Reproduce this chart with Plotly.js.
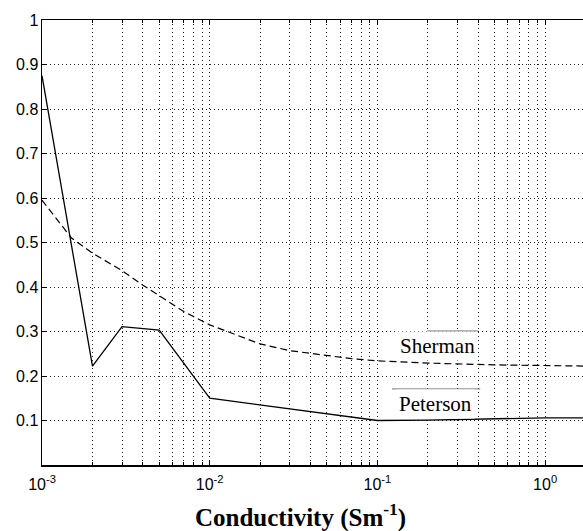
<!DOCTYPE html>
<html>
<head>
<meta charset="utf-8">
<script src="https://cdn.plot.ly/plotly-3.0.1.min.js"></script>
<style>
  html, body { margin: 0; padding: 0; background: #fff; overflow: hidden; }
  #chart { width: 583px; height: 531px; }
</style>
</head>
<body>
<div id="chart"></div>
<script>
// Conductivity values (S/m) and the two curves
const petersonX = [0.001, 0.002, 0.003, 0.005, 0.01, 0.1, 0.2, 0.5, 1, 2];
const petersonY = [0.875, 0.222, 0.311, 0.303, 0.150, 0.100, 0.101, 0.104, 0.106, 0.106];

const shermanX = [0.001, 0.0015, 0.002, 0.003, 0.004, 0.005, 0.007, 0.01, 0.0125, 0.015, 0.02, 0.03, 0.04, 0.05, 0.07, 0.1, 0.2, 0.5, 1, 2];
const shermanY = [0.595, 0.510, 0.476, 0.437, 0.404, 0.380, 0.345, 0.315, 0.301, 0.289, 0.272, 0.257, 0.251, 0.246, 0.239, 0.234, 0.229, 0.225, 0.223, 0.222];

// Axis ticks
const xMajor = [0.001, 0.01, 0.1, 1];
const xMajorText = ['10<sup>-3</sup>', '10<sup>-2</sup>', '10<sup>-1</sup>', '10<sup>0</sup>'];
const xMinor = [];
[0.001, 0.01, 0.1, 1].forEach(d => { for (let k = 2; k <= 9; k++) xMinor.push(+(k * d).toPrecision(3)); });
const yTicks = [0.1, 0.2, 0.3, 0.4, 0.5, 0.6, 0.7, 0.8, 0.9, 1];
const yTickText = ['0.1', '0.2', '0.3', '0.4', '0.5', '0.6', '0.7', '0.8', '0.9', '1'];

const xTitle = '<b>Conductivity (Sm<sup>-1</sup>)</b>';

const dotted = '1px,3px';
const tickFont = { family: 'Liberation Sans, Arial, sans-serif', size: 16, color: '#000' };
const serif = 'Liberation Serif, Times New Roman, serif';

const traces = [
  {
    x: petersonX, y: petersonY, type: 'scatter', mode: 'lines',
    name: 'Peterson', line: { color: '#000', width: 1.3 }, hoverinfo: 'x+y'
  },
  {
    x: shermanX, y: shermanY, type: 'scatter', mode: 'lines',
    name: 'Sherman', line: { color: '#000', width: 1.2, dash: '7px,4px' },
    hoverinfo: 'x+y'
  }
];

const layout = {
  width: 583, height: 531,
  margin: { l: 42, r: 0, t: 20, b: 66, pad: 0 },
  paper_bgcolor: '#fff', plot_bgcolor: '#fff',
  showlegend: false,
  xaxis: {
    type: 'log', range: [-3, 0.226],
    tickmode: 'array', tickvals: xMajor, ticktext: xMajorText,
    tickfont: tickFont, ticklabelstandoff: 4,
    ticks: 'inside', ticklen: 5, tickcolor: '#000', tickwidth: 1,
    showline: true, linecolor: '#000', linewidth: 1.5, mirror: 'ticks',
    showgrid: true, gridcolor: '#222', gridwidth: 1, griddash: dotted,
    minor: {
      tickmode: 'array', tickvals: xMinor,
      ticks: 'inside', ticklen: 3, tickcolor: '#000',
      showgrid: true, gridcolor: '#222', gridwidth: 1, griddash: dotted
    },
    zeroline: false
  },
  yaxis: {
    range: [0, 1],
    tickmode: 'array', tickvals: yTicks, ticktext: yTickText,
    tickfont: tickFont,
    ticks: 'inside', ticklen: 5, tickcolor: '#000',
    showline: true, linecolor: '#000', linewidth: 1.5,
    showgrid: true, gridcolor: '#222', gridwidth: 1, griddash: dotted,
    zeroline: false, ticklabelstandoff: -1
  },
  annotations: [
    {
      // x-axis title, set slightly left of the axis centre
      xref: 'paper', yref: 'paper', x: 0.477, y: 0, yshift: -50,
      xanchor: 'center', yanchor: 'middle', text: xTitle, showarrow: false,
      font: { family: serif, size: 25, color: '#000' }
    },
    {
      xref: 'x', yref: 'y', x: -0.642, y: 0.267, text: 'Sherman', showarrow: false,
      font: { family: serif, size: 21, color: '#000' },
      bgcolor: '#fff', borderpad: 2
    },
    {
      xref: 'x', yref: 'y', x: -0.651, y: 0.138, text: 'Peterson', showarrow: false,
      font: { family: serif, size: 21, color: '#000' },
      bgcolor: '#fff', borderpad: 2
    }
  ],
  shapes: [
    { type: 'line', xref: 'x domain', yref: 'y', x0: 0.712, x1: 0.806, y0: 0.301, y1: 0.301,
      line: { color: '#555', width: 1 } },
    { type: 'line', xref: 'x domain', yref: 'y', x0: 0.647, x1: 0.810, y0: 0.171, y1: 0.171,
      line: { color: '#777', width: 1 } }
  ]
};

Plotly.newPlot('chart', traces, layout, { displayModeBar: false, staticPlot: true });
</script>
</body>
</html>
